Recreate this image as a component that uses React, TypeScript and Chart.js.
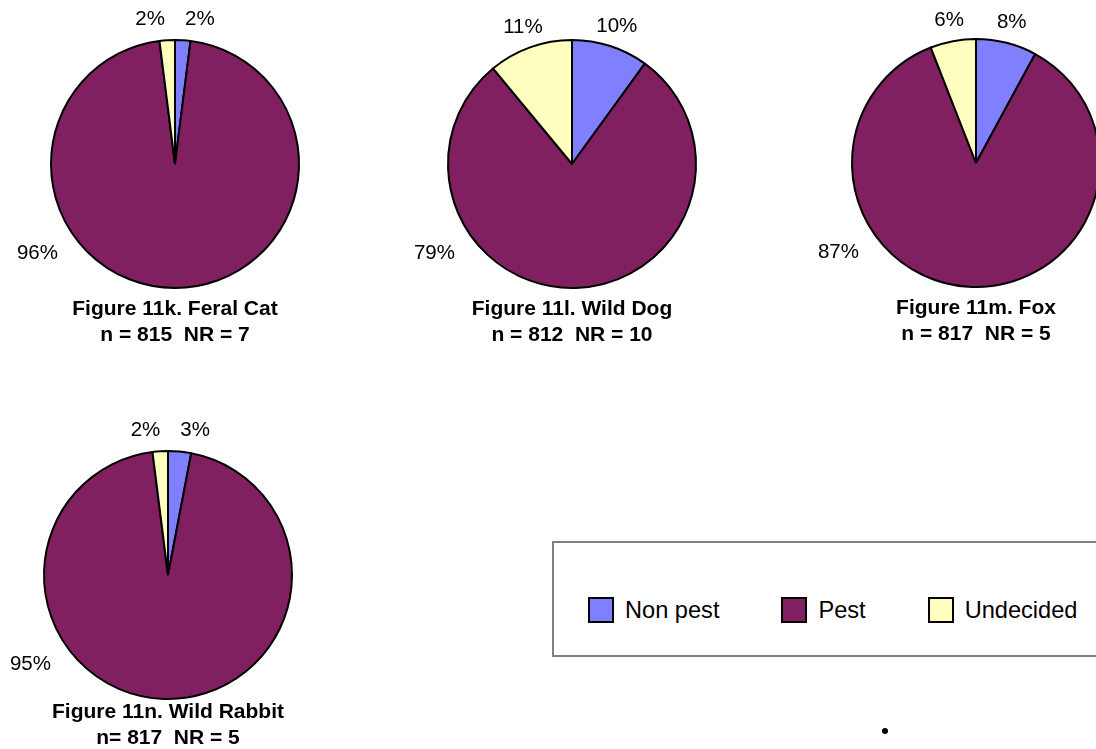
import { useEffect, useRef } from "react";
import { Chart, registerables } from "chart.js";

Chart.register(...registerables);

// ---- data ----
const CATEGORIES = ["Non pest", "Pest", "Undecided"];
const COLORS = ["#8080FF", "#802060", "#FFFFC0"];

const FERAL_CAT = [2, 96, 2];
const WILD_DOG = [10, 79, 11];
const FOX = [8, 87, 6];
const WILD_RABBIT = [3, 95, 2];

const FERAL_CAT_TITLE = ["Figure 11k. Feral Cat", "n = 815  NR = 7"];
const WILD_DOG_TITLE = ["Figure 11l. Wild Dog", "n = 812  NR = 10"];
const FOX_TITLE = ["Figure 11m. Fox", "n = 817  NR = 5"];
const WILD_RABBIT_TITLE = ["Figure 11n. Wild Rabbit", "n= 817  NR = 5"];

// ---- layout ----
const FONT = "'Liberation Sans', Arial, Helvetica, sans-serif";
const CANVAS_W = 400;
const CANVAS_H = 360;
const PIE_X = 200; // pie centre inside each canvas
const PIE_Y = 170;
const HALF_AREA = 120; // half size of the chart area around the pie
const RADIUS = 124;
const MINOR_LABEL_OFFSET = 21;
const MAJOR_LABEL_OFFSET = 40;
const MAJOR_LABEL_ANGLE = (147 * Math.PI) / 180; // lower-left of the pie
const LABEL_MIN_GAP = 20;

type PieProps = {
  values: number[];
  title: string[];
  cx: number;
  cy: number;
  titleGap: number;
};

const percentLabels = {
  id: "percentLabels",
  afterDatasetsDraw(chart: any) {
    const ctx: CanvasRenderingContext2D = chart.ctx;
    const meta = chart.getDatasetMeta(0);
    const values = chart.data.datasets[0].data as number[];
    ctx.save();
    ctx.font = `20.5px ${FONT}`;
    ctx.fillStyle = "#000000";
    ctx.textAlign = "center";
    ctx.textBaseline = "middle";

    const boxes = meta.data.map((el: any, i: number) => {
      const { x, y, startAngle, endAngle, outerRadius } = el.getProps(
        ["x", "y", "startAngle", "endAngle", "outerRadius"],
        true
      );
      const major = endAngle - startAngle > Math.PI;
      const a = major ? MAJOR_LABEL_ANGLE : (startAngle + endAngle) / 2;
      const d = outerRadius + (major ? MAJOR_LABEL_OFFSET : MINOR_LABEL_OFFSET);
      const text = `${values[i]}%`;
      return {
        text,
        x: x + d * Math.cos(a),
        y: y + d * Math.sin(a),
        w: ctx.measureText(text).width,
        h: 22,
      };
    });

    // keep neighbouring labels apart
    for (let i = 0; i < boxes.length; i++) {
      for (let j = i + 1; j < boxes.length; j++) {
        const a = boxes[i];
        const b = boxes[j];
        if (Math.abs(a.y - b.y) >= (a.h + b.h) / 2) continue;
        const left = a.x <= b.x ? a : b;
        const right = left === a ? b : a;
        const need = (left.w + right.w) / 2 + LABEL_MIN_GAP - (right.x - left.x);
        if (need > 0) {
          left.x -= need / 2;
          right.x += need / 2;
        }
      }
    }

    boxes.forEach((b: any) => ctx.fillText(b.text, b.x, b.y));
    ctx.restore();
  },
};

function PieChart({ values, title, cx, cy, titleGap }: PieProps) {
  const ref = useRef<HTMLCanvasElement>(null);

  useEffect(() => {
    if (!ref.current) return;
    const titleHeight = titleGap + 2 * 26;
    const chart = new Chart(ref.current, {
      type: "pie",
      data: {
        labels: CATEGORIES,
        datasets: [
          {
            data: values,
            backgroundColor: COLORS,
            borderColor: "#000000",
            borderWidth: 2,
            radius: RADIUS,
          } as any,
        ],
      },
      options: {
        responsive: false,
        animation: false,
        events: [],
        layout: {
          padding: {
            left: PIE_X - HALF_AREA,
            right: CANVAS_W - PIE_X - HALF_AREA,
            top: PIE_Y - HALF_AREA,
            bottom: CANVAS_H - (PIE_Y + HALF_AREA) - titleHeight,
          },
        },
        plugins: {
          legend: { display: false },
          tooltip: { enabled: false },
          title: {
            display: true,
            position: "bottom",
            text: title,
            color: "#000000",
            padding: { top: titleGap, bottom: 0 },
            font: { family: FONT, size: 21, weight: "bold", lineHeight: 26 / 21 },
          },
        },
      },
      plugins: [percentLabels],
    });
    return () => chart.destroy();
  }, [values, title, titleGap]);

  return (
    <canvas
      ref={ref}
      width={CANVAS_W}
      height={CANVAS_H}
      style={{
        position: "absolute",
        left: cx - PIE_X,
        top: cy - PIE_Y,
        width: CANVAS_W,
        height: CANVAS_H,
      }}
    />
  );
}

function Legend() {
  return (
    <div
      style={{
        position: "absolute",
        left: 552,
        top: 541,
        width: 620,
        height: 116,
        border: "2px solid #808080",
        boxSizing: "border-box",
        background: "#ffffff",
      }}
    >
      <div
        style={{
          position: "absolute",
          left: 34,
          top: 54,
          display: "flex",
          alignItems: "center",
          fontFamily: FONT,
          fontSize: "23.6px",
          color: "#000000",
          whiteSpace: "nowrap",
        }}
      >
        {CATEGORIES.map((name, i) => (
          <div
            key={name}
            style={{ display: "flex", alignItems: "center", marginRight: 62 }}
          >
            <span
              style={{
                display: "inline-block",
                width: 26,
                height: 26,
                boxSizing: "border-box",
                border: "2px solid #000000",
                background: COLORS[i],
                marginRight: 11,
              }}
            />
            <span style={{ lineHeight: "26px" }}>{name}</span>
          </div>
        ))}
      </div>
    </div>
  );
}

export default function App() {
  return (
    <div
      style={{
        position: "absolute",
        left: 0,
        top: 0,
        width: 1096,
        height: 749,
        overflow: "hidden",
        background: "#ffffff",
      }}
    >
      <PieChart values={FERAL_CAT} title={FERAL_CAT_TITLE} cx={175} cy={164} titleGap={12} />
      <PieChart values={WILD_DOG} title={WILD_DOG_TITLE} cx={572} cy={164} titleGap={12} />
      <PieChart values={FOX} title={FOX_TITLE} cx={976} cy={163} titleGap={12} />
      <PieChart values={WILD_RABBIT} title={WILD_RABBIT_TITLE} cx={168} cy={575} titleGap={4} />
      <Legend />
      <div
        style={{
          position: "absolute",
          left: 882,
          top: 728,
          width: 6,
          height: 6,
          borderRadius: "50%",
          background: "#000000",
        }}
      />
    </div>
  );
}
